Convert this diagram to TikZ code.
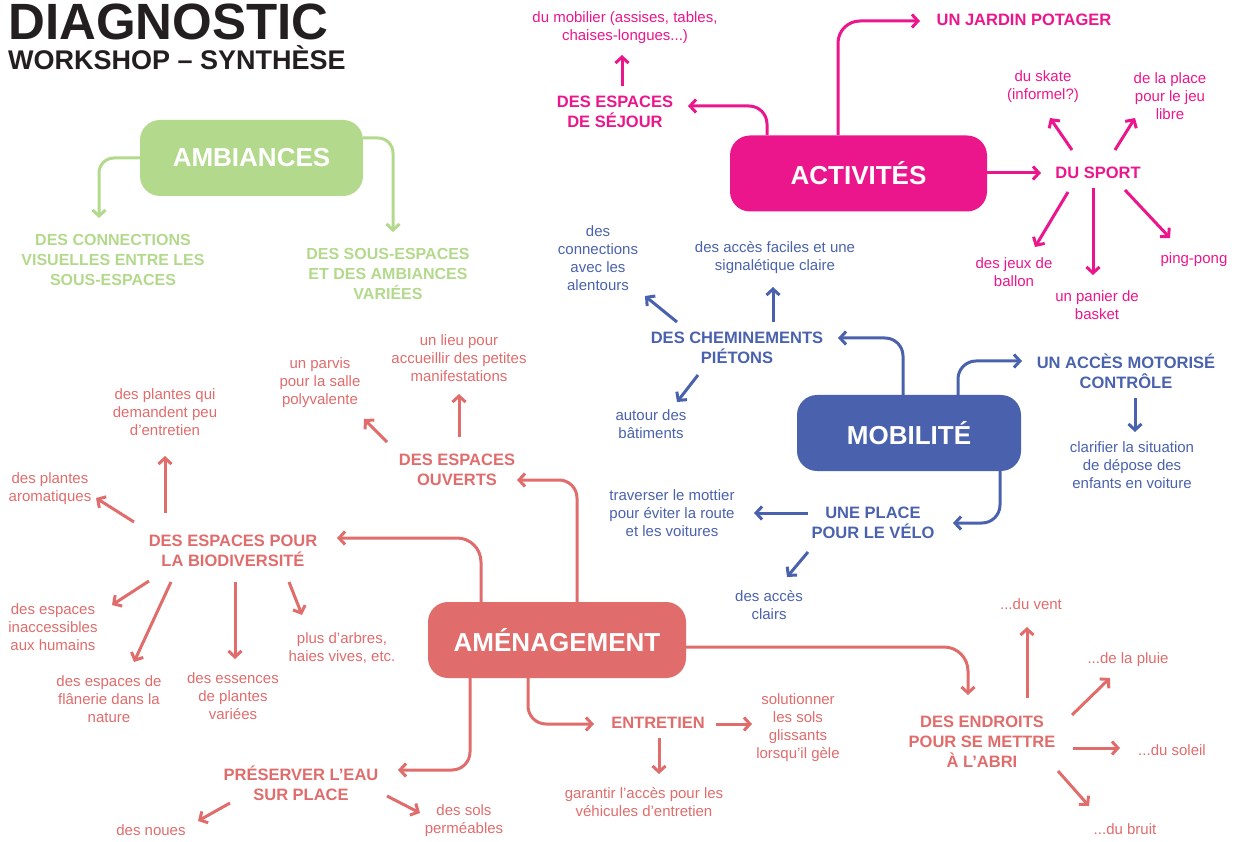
\documentclass[tikz,border=0pt]{standalone}
\usepackage{fontspec}
\setmainfont{Liberation Sans}
\usetikzlibrary{arrows.meta}
\definecolor{cInk}{HTML}{231F20}
\definecolor{cGreen}{HTML}{B3D98C}
\definecolor{cPink}{HTML}{EC168C}
\definecolor{cBlue}{HTML}{4A62AD}
\definecolor{cRed}{HTML}{E06C6C}
\begin{document}
\begin{tikzpicture}[x=1pt,y=-1pt,
  box/.style={rounded corners=20pt, minimum height=76pt, text=white, inner sep=0pt,
    font=\bfseries\fontsize{26}{30}\selectfont},
  sub/.style={align=center, inner sep=0pt, font=\bfseries\fontsize{16.5}{20}\selectfont},
  gsub/.style={sub, font=\bfseries\fontsize{16}{20}\selectfont},
  leaf/.style={align=center, inner sep=0pt, font=\fontsize{15}{18}\selectfont},
  arr/.style={line width=3pt, -{Straight Barb[length=6pt,width=13pt]}},
  elbow/.style={arr, rounded corners=18pt}]
\useasboundingbox (0,0) rectangle (1235,842);

% title
\node[anchor=base west, inner sep=0pt, text=cInk, font=\bfseries\fontsize{51}{55}\selectfont] (title) at (8,39.5) {DIAGNOSTIC};
\node[anchor=base west, inner sep=0pt, text=cInk, font=\bfseries\fontsize{27}{30}\selectfont] (subtitle) at (8,70) {WORKSHOP – SYNTHÈSE};

% ================= AMBIANCES =================
\begin{scope}[every node/.append style={text=cGreen}]
\node[box, fill=cGreen, text=white, minimum width=223pt] (amb) at (251.5,158) {AMBIANCES};
\node[gsub] (gconn) at (113,260) {DES CONNECTIONS\\VISUELLES ENTRE LES\\SOUS-ESPACES};
\node[gsub] (gsous) at (388,274) {DES SOUS-ESPACES\\ET DES AMBIANCES\\VARIÉES};
\end{scope}
\coordinate (g1a) at (140,158); \coordinate (g1b) at (99,218);
\coordinate (g2a) at (363,138); \coordinate (g2b) at (393,232);
\draw[elbow, cGreen, rounded corners=15pt] (g1a) -| (g1b);
\draw[elbow, cGreen, rounded corners=15pt] (g2a) -| (g2b);

% ================= ACTIVITES =================
\begin{scope}[every node/.append style={text=cPink}]
\node[box, fill=cPink, text=white, minimum width=257pt] (act) at (858.5,173.5) {ACTIVITÉS};
\node[sub] (jardin) at (1024,20) {UN JARDIN POTAGER};
\node[sub] (sejour) at (615,112) {DES ESPACES\\DE SÉJOUR};
\node[leaf] (mobilier) at (625,28) {du mobilier (assises, tables,\\chaises-longues...)};
\node[sub] (sport) at (1098,173) {DU SPORT};
\node[leaf] (skate) at (1043,87) {du skate\\(informel?)};
\node[leaf] (jeu) at (1170,96) {de la place\\pour le jeu\\libre};
\node[leaf] (ballon) at (1014,272) {des jeux de\\ballon};
\node[leaf] (basket) at (1097,305) {un panier de\\basket};
\node[leaf] (ping) at (1194,260) {ping-pong};
\end{scope}
\coordinate (p1a) at (767,135); \coordinate (p1b) at (688,106);
\coordinate (p2a) at (838,135); \coordinate (p2b) at (920,21);
\coordinate (p3a) at (987,173); \coordinate (p3b) at (1041,173);
\coordinate (p4a) at (622,86); \coordinate (p4b) at (622,55);
\coordinate (s1a) at (1072,150); \coordinate (s1b) at (1050,118);
\coordinate (s2a) at (1115,150); \coordinate (s2b) at (1135,118);
\coordinate (s3a) at (1068,192); \coordinate (s3b) at (1035,247);
\coordinate (s4a) at (1093,188); \coordinate (s4b) at (1093,275);
\coordinate (s5a) at (1125,190); \coordinate (s5b) at (1170,238);
\begin{scope}[cPink]
\draw[elbow] (p1a) |- (p1b);
\draw[elbow, rounded corners=22pt] (p2a) |- (p2b);
\draw[arr] (p3a) -- (p3b);
\draw[arr] (p4a) -- (p4b);
\draw[arr] (s1a) -- (s1b);
\draw[arr] (s2a) -- (s2b);
\draw[arr] (s3a) -- (s3b);
\draw[arr] (s4a) -- (s4b);
\draw[arr] (s5a) -- (s5b);
\end{scope}

% ================= MOBILITE =================
\begin{scope}[every node/.append style={text=cBlue}]
\node[box, fill=cBlue, text=white, minimum width=224pt] (mob) at (909,433) {MOBILITÉ};
\node[sub] (motor) at (1126,371) {UN ACCÈS MOTORISÉ\\CONTRÔLE};
\node[leaf] (clarif) at (1132,465) {clarifier la situation\\de dépose des\\enfants en voiture};
\node[sub] (velo) at (873,523) {UNE PLACE\\POUR LE VÉLO};
\node[leaf] (travers) at (672,513) {traverser le mottier\\pour éviter la route\\et les voitures};
\node[leaf] (clairs) at (769,605) {des accès\\clairs};
\node[sub] (chem) at (737,348) {DES CHEMINEMENTS\\PIÉTONS};
\node[leaf] (alent) at (598,258) {des\\connections\\avec les\\alentours};
\node[leaf] (facil) at (775,258) {des accès faciles et une\\signalétique claire};
\node[leaf] (autour) at (651,424) {autour des\\bâtiments};
\end{scope}
\coordinate (b1a) at (903,395); \coordinate (b1b) at (838,338);
\coordinate (b2a) at (958,395); \coordinate (b2b) at (1022,361);
\coordinate (b3a) at (1135,398); \coordinate (b3b) at (1135,432);
\coordinate (b4a) at (1000,471); \coordinate (b4b) at (953,523);
\coordinate (b5a) at (808,513); \coordinate (b5b) at (754,513);
\coordinate (b6a) at (808,552); \coordinate (b6b) at (787,577);
\coordinate (b7a) at (677,322); \coordinate (b7b) at (645,296);
\coordinate (b8a) at (773,322); \coordinate (b8b) at (773,287);
\coordinate (b9a) at (698,375); \coordinate (b9b) at (677,402);
\begin{scope}[cBlue]
\draw[elbow] (b1a) |- (b1b);
\draw[elbow] (b2a) |- (b2b);
\draw[arr] (b3a) -- (b3b);
\draw[elbow] (b4a) |- (b4b);
\draw[arr] (b5a) -- (b5b);
\draw[arr] (b6a) -- (b6b);
\draw[arr] (b7a) -- (b7b);
\draw[arr] (b8a) -- (b8b);
\draw[arr] (b9a) -- (b9b);
\end{scope}

% ================= AMENAGEMENT =================
\begin{scope}[every node/.append style={text=cRed}]
\node[box, fill=cRed, text=white, minimum width=258pt] (amen) at (557,640) {AMÉNAGEMENT};
\node[sub] (ouv) at (457,470) {DES ESPACES\\OUVERTS};
\node[leaf] (parvis) at (320,383) {un parvis\\pour la salle\\polyvalente};
\node[leaf] (lieu) at (459,358) {un lieu pour\\accueillir des petites\\manifestations};
\node[sub] (biodiv) at (233,551) {DES ESPACES POUR\\LA BIODIVERSITÉ};
\node[leaf] (peu) at (165,412) {des plantes qui\\demandent peu\\d’entretien};
\node[leaf] (arom) at (50,489) {des plantes\\aromatiques};
\node[leaf] (inacc) at (53,627) {des espaces\\inaccessibles\\aux humains};
\node[leaf] (flan) at (109,699) {des espaces de\\flânerie dans la\\nature};
\node[leaf] (ess) at (233,696) {des essences\\de plantes\\variées};
\node[leaf] (arbres) at (342,648) {plus d’arbres,\\haies vives, etc.};
\node[sub] (eau) at (301,783) {PRÉSERVER L’EAU\\SUR PLACE};
\node[leaf] (noues) at (151,830) {des noues};
\node[leaf] (sols) at (464,821) {des sols\\perméables};
\node[sub] (entr) at (658,723) {ENTRETIEN};
\node[leaf] (glis) at (798,728) {solutionner\\les sols\\glissants\\lorsqu’il gèle};
\node[leaf] (garant) at (644,802) {garantir l’accès pour les\\véhicules d’entretien};
\node[sub] (abri) at (982,742) {DES ENDROITS\\POUR SE METTRE\\À L’ABRI};
\node[leaf] (vent) at (1031,604) {...du vent};
\node[leaf] (pluie) at (1128,660) {...de la pluie};
\node[leaf] (soleil) at (1172,750) {...du soleil};
\node[leaf] (bruit) at (1125,829) {...du bruit};
\end{scope}
\coordinate (r1a) at (481,602); \coordinate (r1b) at (337,538);
\coordinate (r2a) at (577,602); \coordinate (r2b) at (517,480);
\coordinate (r3a) at (387,442); \coordinate (r3b) at (364,419);
\coordinate (r4a) at (459,437); \coordinate (r4b) at (459,394);
\coordinate (r5a) at (165,513); \coordinate (r5b) at (165,456);
\coordinate (r6a) at (134,522); \coordinate (r6b) at (96,498);
\coordinate (r7a) at (149,581); \coordinate (r7b) at (112,605);
\coordinate (r8a) at (171,582); \coordinate (r8b) at (134,662);
\coordinate (r9a) at (235,582); \coordinate (r9b) at (235,659);
\coordinate (r10a) at (289,582); \coordinate (r10b) at (302,615);
\coordinate (r11a) at (470,678); \coordinate (r11b) at (398,770);
\coordinate (r12a) at (230,803); \coordinate (r12b) at (198,821);
\coordinate (r13a) at (387,796); \coordinate (r13b) at (420,813);
\coordinate (r14a) at (528,678); \coordinate (r14b) at (594,724);
\coordinate (r15a) at (716,724); \coordinate (r15b) at (752,724);
\coordinate (r16a) at (659,738); \coordinate (r16b) at (659,774);
\coordinate (r17a) at (686,647); \coordinate (r17b) at (968,695);
\coordinate (r18a) at (1027,698); \coordinate (r18b) at (1027,627);
\coordinate (r19a) at (1072,715); \coordinate (r19b) at (1110,678);
\coordinate (r20a) at (1073,748); \coordinate (r20b) at (1120,748);
\coordinate (r21a) at (1058,771); \coordinate (r21b) at (1089,806);
\begin{scope}[cRed]
\draw[elbow, rounded corners=24pt] (r1a) |- (r1b);
\draw[elbow] (r2a) |- (r2b);
\draw[arr] (r3a) -- (r3b);
\draw[arr] (r4a) -- (r4b);
\draw[arr] (r5a) -- (r5b);
\draw[arr] (r6a) -- (r6b);
\draw[arr] (r7a) -- (r7b);
\draw[arr] (r8a) -- (r8b);
\draw[arr] (r9a) -- (r9b);
\draw[arr] (r10a) -- (r10b);
\draw[elbow] (r11a) |- (r11b);
\draw[arr] (r12a) -- (r12b);
\draw[arr] (r13a) -- (r13b);
\draw[elbow] (r14a) |- (r14b);
\draw[arr] (r15a) -- (r15b);
\draw[arr] (r16a) -- (r16b);
\draw[elbow, rounded corners=24pt] (r17a) -| (r17b);
\draw[arr] (r18a) -- (r18b);
\draw[arr] (r19a) -- (r19b);
\draw[arr] (r20a) -- (r20b);
\draw[arr] (r21a) -- (r21b);
\end{scope}
\end{tikzpicture}
\end{document}
